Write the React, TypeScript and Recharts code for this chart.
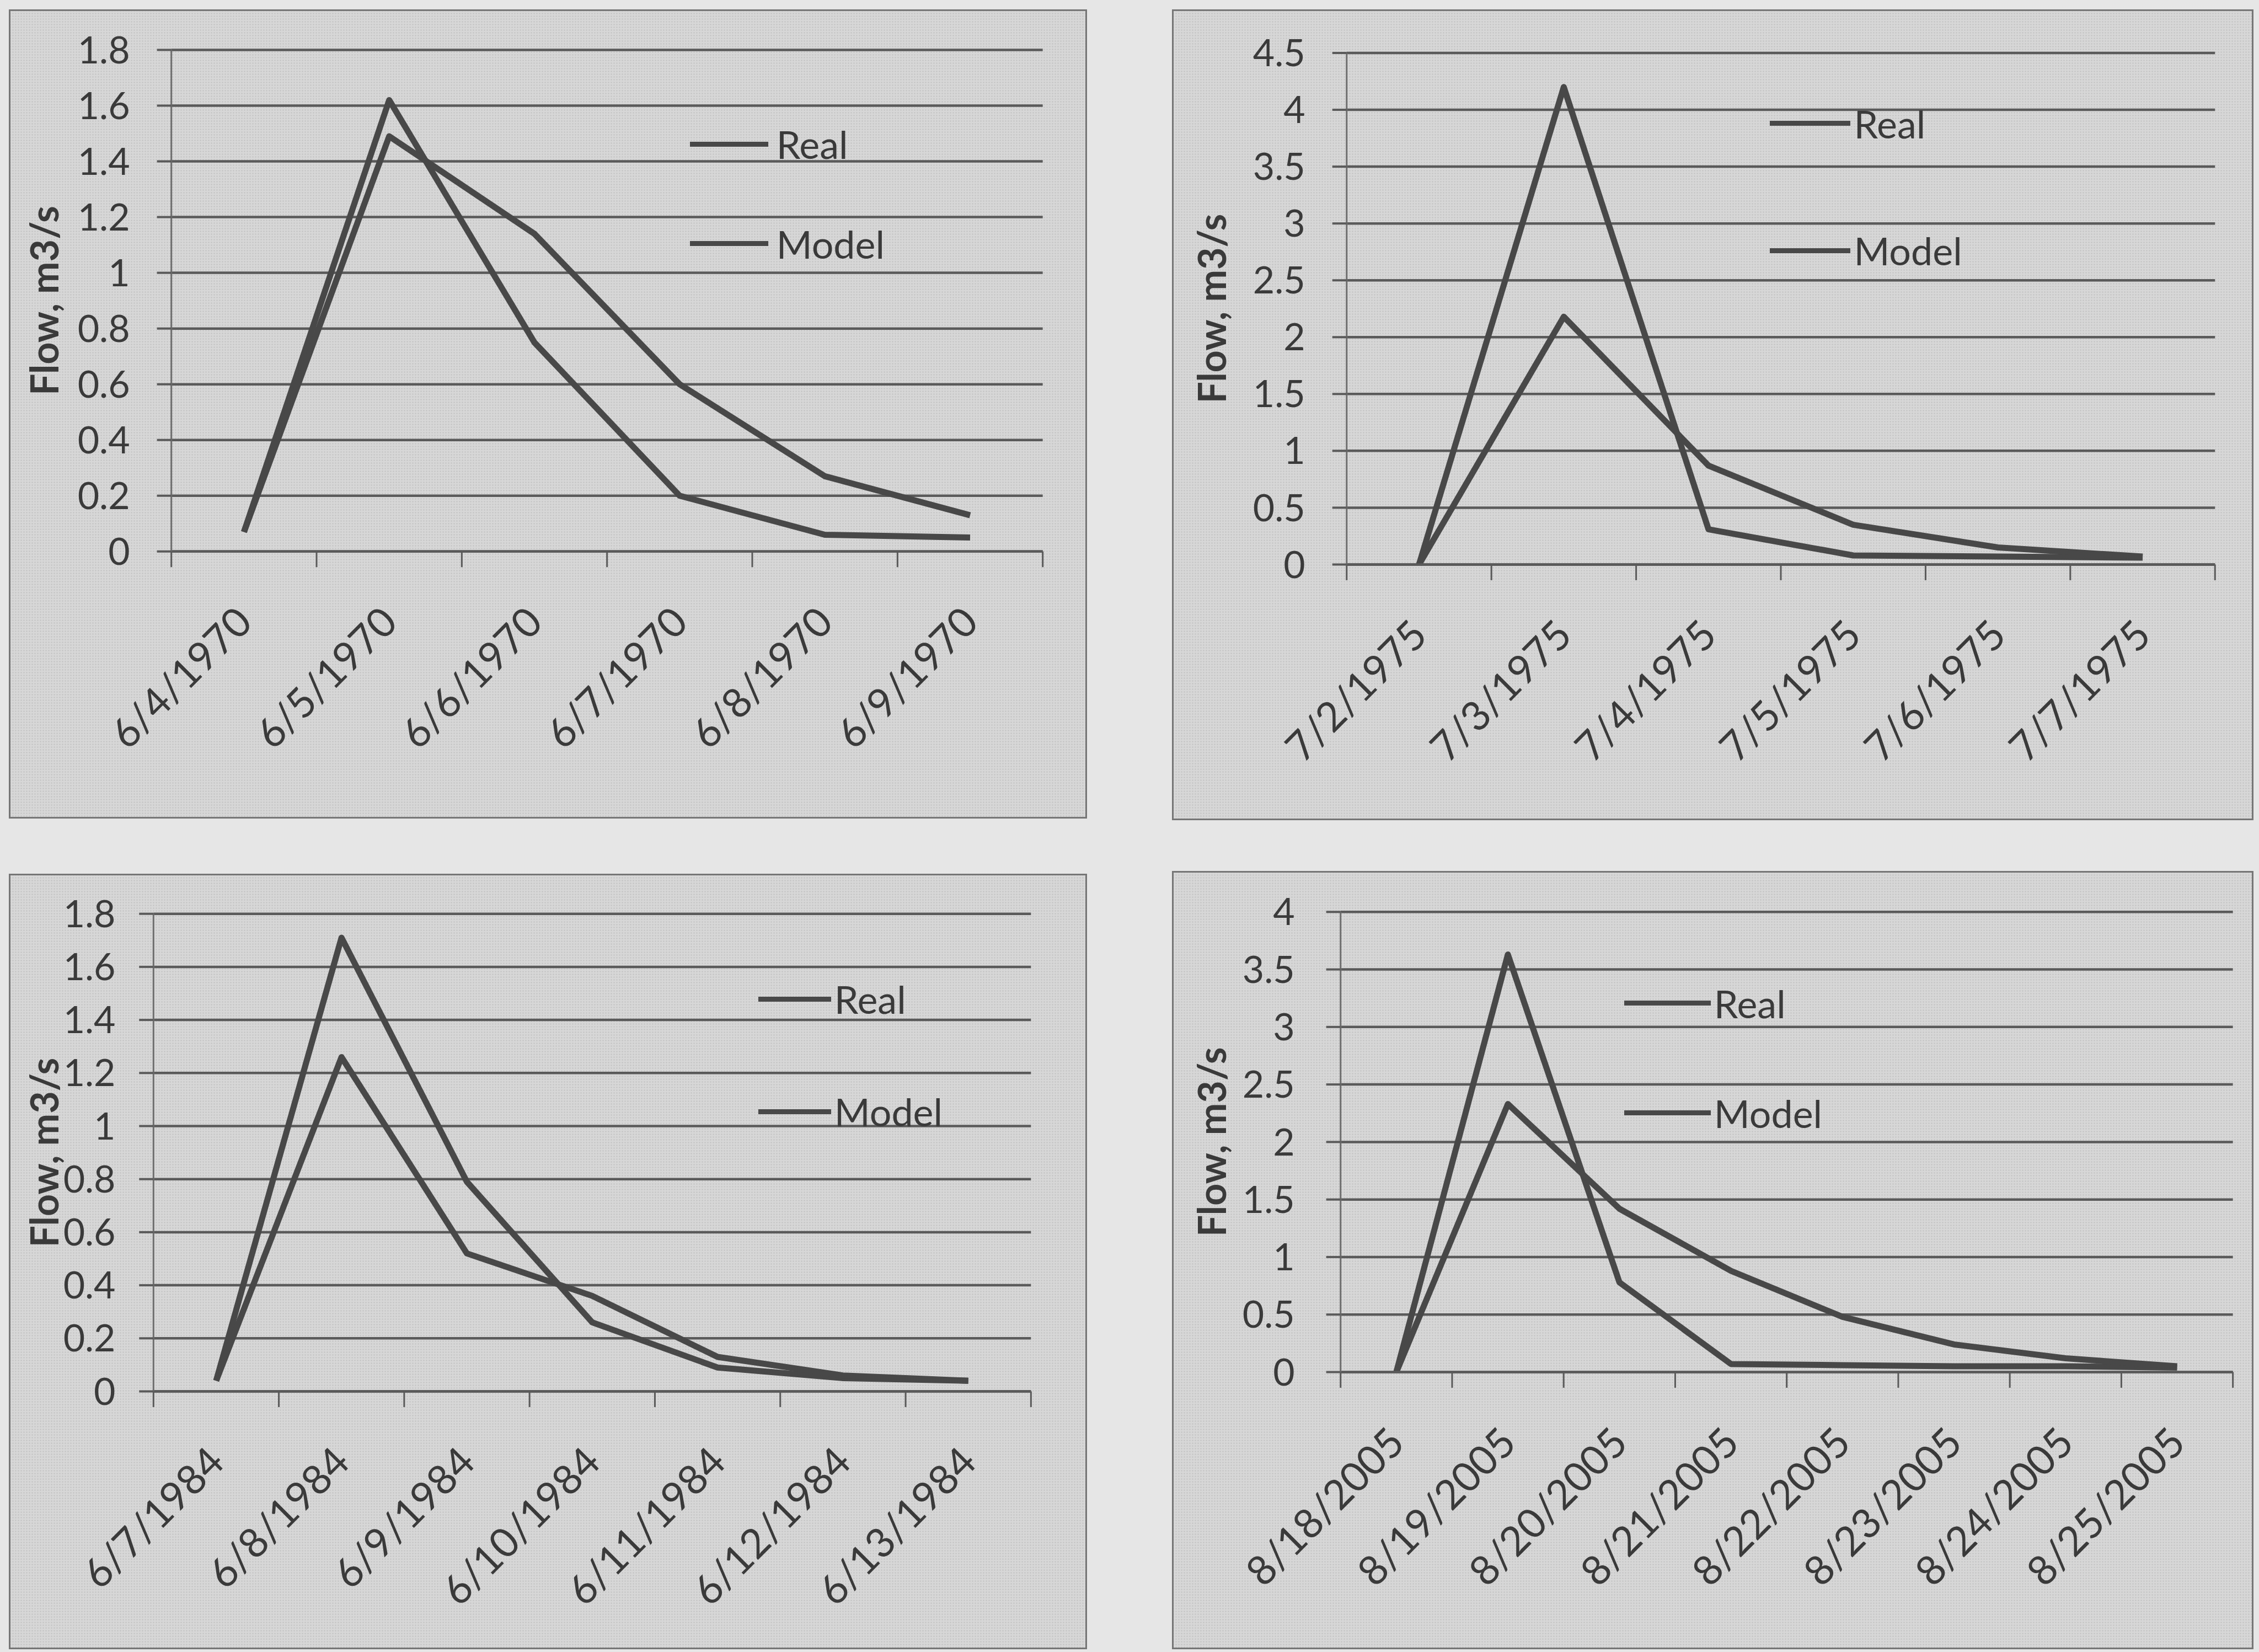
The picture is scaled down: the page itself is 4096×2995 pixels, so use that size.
import React from "react";
import { LineChart, Line, XAxis, YAxis, CartesianGrid, Legend, Label } from "recharts";

// everything below is measured on the 5182px wide reference, then scaled
const S = 0.79;
const FONT = "Lato, 'Noto Sans', sans-serif";
const FS = 70;
const XFS = 74;
const YFS = 68;
const INK = "#3a3a3a";
const LINE = "#484848";
const GRID = "#5a5a5a";
const SERIES = ["Real", "Model"];

// 1970 event
const dates1970 = ["6/4/1970", "6/5/1970", "6/6/1970", "6/7/1970", "6/8/1970", "6/9/1970"];
const real1970 = [0.07, 1.62, 0.75, 0.2, 0.06, 0.05];
const model1970 = [0.07, 1.49, 1.14, 0.6, 0.27, 0.13];
const ticks1970 = [0, 0.2, 0.4, 0.6, 0.8, 1, 1.2, 1.4, 1.6, 1.8];

// 1975 event
const dates1975 = ["7/2/1975", "7/3/1975", "7/4/1975", "7/5/1975", "7/6/1975", "7/7/1975"];
const real1975 = [0, 4.2, 0.31, 0.08, 0.07, 0.06];
const model1975 = [0, 2.18, 0.87, 0.35, 0.15, 0.07];
const ticks1975 = [0, 0.5, 1, 1.5, 2, 2.5, 3, 3.5, 4, 4.5];

// 1984 event
const dates1984 = ["6/7/1984", "6/8/1984", "6/9/1984", "6/10/1984", "6/11/1984", "6/12/1984", "6/13/1984"];
const real1984 = [0.04, 1.71, 0.79, 0.26, 0.09, 0.05, 0.04];
const model1984 = [0.04, 1.26, 0.52, 0.36, 0.13, 0.06, 0.04];
const ticks1984 = [0, 0.2, 0.4, 0.6, 0.8, 1, 1.2, 1.4, 1.6, 1.8];

// 2005 event
const dates2005 = ["8/18/2005", "8/19/2005", "8/20/2005", "8/21/2005", "8/22/2005", "8/23/2005", "8/24/2005", "8/25/2005"];
const real2005 = [0, 3.63, 0.78, 0.07, 0.06, 0.05, 0.05, 0.04];
const model2005 = [0, 2.33, 1.42, 0.88, 0.48, 0.24, 0.12, 0.05];
const ticks2005 = [0, 0.5, 1, 1.5, 2, 2.5, 3, 3.5, 4];

const panels = [
  {
    dates: dates1970, real: real1970, model: model1970, yTicks: ticks1970,
    box: [20, 22, 2495, 1878], plot: [393, 115, 2393, 1266], labelGap: 62, titleX: 80,
    legend: { x: 1584, xe: 1763, tx: 1782, y: 331, gap: 228 },
  },
  {
    dates: dates1975, real: real1975, model: model1975, yTicks: ticks1975,
    box: [2690, 22, 5172, 1882], plot: [3091, 122, 5084, 1296], labelGap: 62, titleX: 90,
    legend: { x: 4062, xe: 4247, tx: 4255, y: 283, gap: 292 },
  },
  {
    dates: dates1984, real: real1984, model: model1984, yTicks: ticks1984,
    box: [20, 2005, 2495, 3785], plot: [352, 2097, 2366, 3193], labelGap: 54, titleX: 80,
    legend: { x: 1741, xe: 1907, tx: 1915, y: 2293, gap: 258 },
  },
  {
    dates: dates2005, real: real2005, model: model2005, yTicks: ticks2005,
    box: [2690, 1999, 5172, 3785], plot: [3077, 2093, 5125, 3149], labelGap: 72, titleX: 90,
    legend: { x: 3728, xe: 3926, tx: 3934, y: 2302, gap: 252 },
  },
];

function FlowChart({ p }: { p: any }) {
  const [bl, bt, br, bb] = p.box;
  const [pl, pt, pr, pb] = p.plot;
  const W = (br - bl) * S;
  const H = (bb - bt) * S;
  const n = p.dates.length;
  const half = ((pr - pl) * S) / n / 2;
  const rows = p.dates.map((d: string, i: number) => ({ date: d, Real: p.real[i], Model: p.model[i] }));
  const lg = p.legend;

  // category label plus Excel-style tick marks on the category boundaries
  const DateTick = (props: any) => {
    const { x, y, payload, index } = props;
    const t = 36 * S;
    return (
      <g>
        <line x1={x - half} x2={x - half} y1={y} y2={y + t} stroke={GRID} strokeWidth={3} />
        {index === n - 1 && <line x1={x + half} x2={x + half} y1={y} y2={y + t} stroke={GRID} strokeWidth={3} />}
        <g transform={`translate(${x + 24 * S},${y + 168 * S})`}>
          <text textAnchor="end" transform="rotate(-45)" fontSize={XFS} fontFamily={FONT} fill={INK}>
            {payload.value}
          </text>
        </g>
      </g>
    );
  };

  const legendContent = () => (
    <div style={{ fontFamily: FONT }}>
      {SERIES.map((name) => (
        <div key={name} style={{ display: "flex", alignItems: "center", height: lg.gap * S }}>
          <div style={{ width: (lg.xe - lg.x) * S, height: 9, background: LINE }} />
          <span style={{ marginLeft: (lg.tx - lg.xe) * S, fontSize: FS, lineHeight: 1, color: INK }}>{name}</span>
        </div>
      ))}
    </div>
  );

  const title = (props: any) => {
    const vb = props.viewBox || {};
    const cx = (vb.x || 0) + p.titleX * S;
    const cy = (vb.y || 0) + (vb.height || 0) / 2;
    return (
      <text x={cx} y={cy} transform={`rotate(-90, ${cx}, ${cy})`} textAnchor="middle" dominantBaseline="central"
        fontSize={FS} fontWeight="bold" fontFamily={FONT} fill={INK}>
        Flow, m3/s
      </text>
    );
  };

  return (
    <div
      style={{
        position: "absolute", left: bl * S, top: bt * S, width: W, height: H,
        background: "#d7d7d7", outline: "3px solid #767676", outlineOffset: -3,
        backgroundImage: "radial-gradient(rgba(0,0,0,0.08) 1px, transparent 1.5px)",
        backgroundSize: "5px 5px",
      }}
    >
      <LineChart width={W} height={H} data={rows}
        margin={{ top: (pt - bt) * S, right: (br - pr) * S, bottom: 0, left: 0 }}>
        <CartesianGrid vertical={false} stroke={GRID} strokeWidth={4.5} />
        <XAxis dataKey="date" height={(bb - pb) * S} interval={0} tickSize={0} tickMargin={0} tickLine={false}
          axisLine={{ stroke: GRID, strokeWidth: 4.5 }} padding={{ left: half, right: half }} tick={<DateTick />} />
        <YAxis width={(pl - bl) * S} domain={[0, p.yTicks[p.yTicks.length - 1]]} ticks={p.yTicks} interval={0}
          tickSize={33 * S} tickMargin={p.labelGap * S} tickFormatter={(v: number) => String(v)}
          tick={{ fontSize: YFS, fontFamily: FONT, fill: INK }}
          axisLine={{ stroke: "#6e6e6e", strokeWidth: 3 }} tickLine={{ stroke: GRID, strokeWidth: 4 }}>
          <Label content={title} />
        </YAxis>
        <Legend layout="vertical" align="center" verticalAlign="middle" content={legendContent}
          wrapperStyle={{ left: (lg.x - bl) * S, top: (lg.y - bt - lg.gap / 2) * S, width: "auto", height: "auto" }} />
        <Line dataKey="Real" stroke={LINE} strokeWidth={11} dot={false} strokeLinejoin="round" isAnimationActive={false} />
        <Line dataKey="Model" stroke={LINE} strokeWidth={11} dot={false} strokeLinejoin="round" isAnimationActive={false} />
      </LineChart>
    </div>
  );
}

export default function App() {
  return (
    <div style={{ position: "absolute", left: 0, top: 0, width: 4096, height: 2995, background: "#e6e6e6", overflow: "hidden" }}>
      {panels.map((p, i) => (
        <FlowChart key={i} p={p} />
      ))}
    </div>
  );
}
